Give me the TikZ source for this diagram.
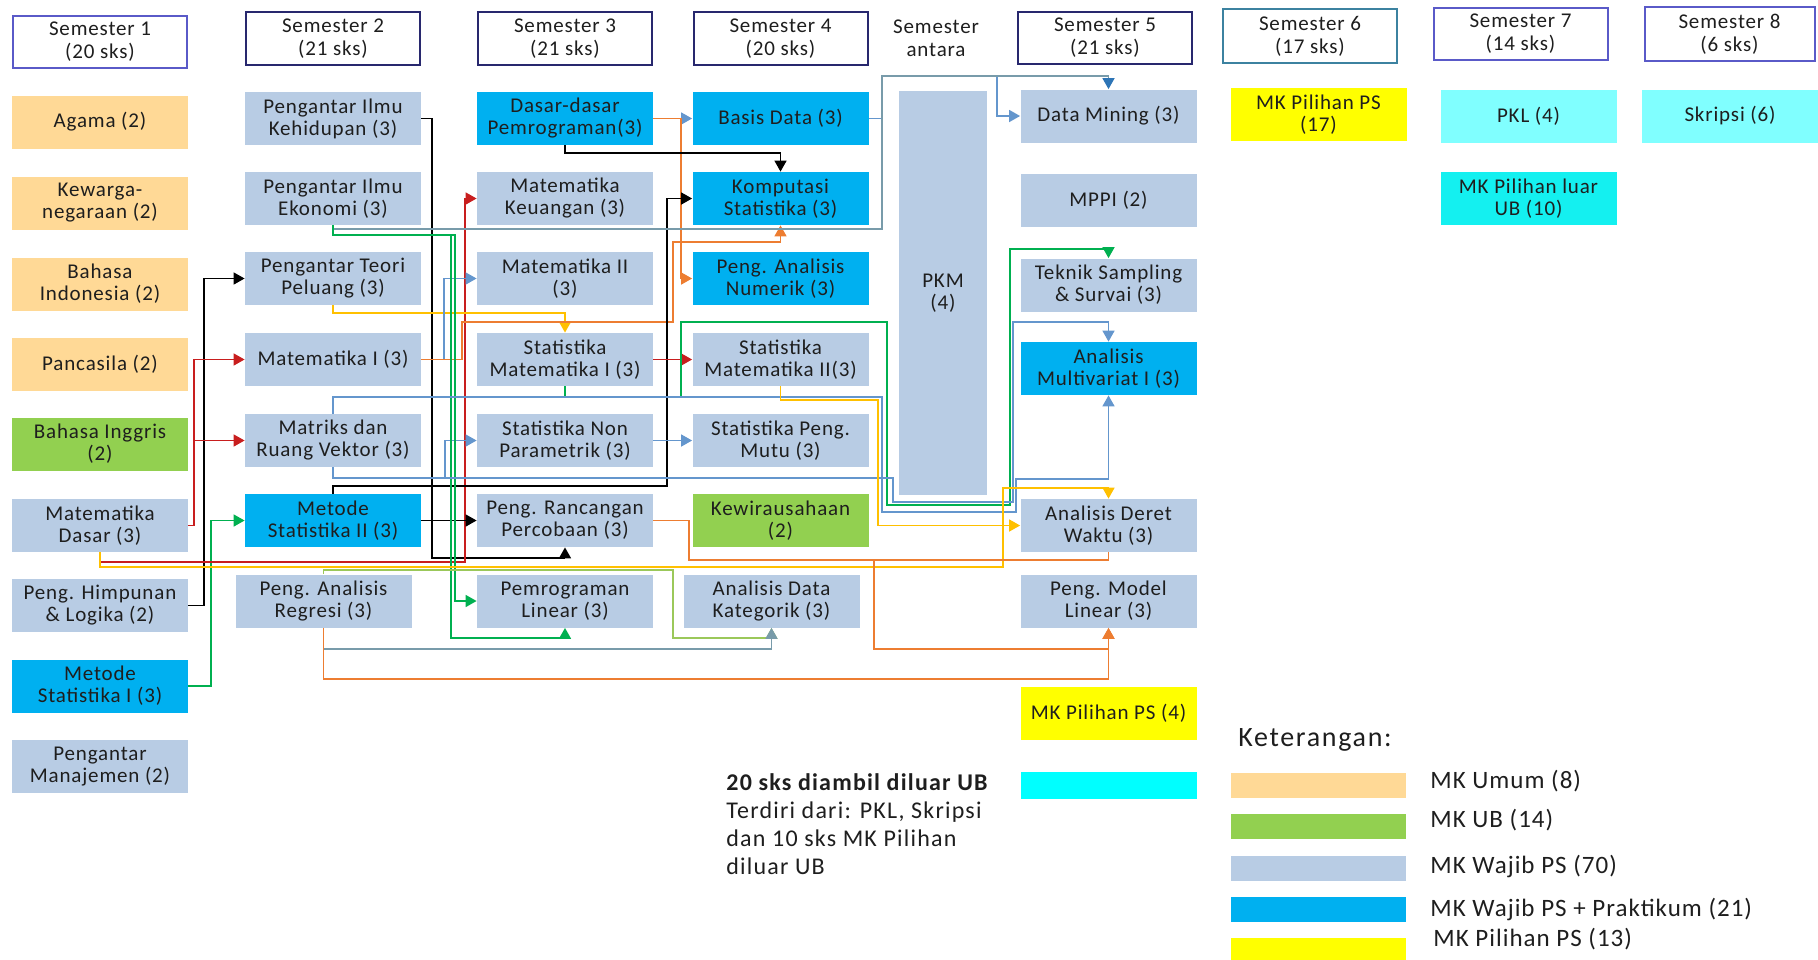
\documentclass[tikz,border=0pt]{standalone}
\usepackage{fontspec}
\setmainfont{Carlito}
\usetikzlibrary{arrows.meta}
\definecolor{cumum}{RGB}{255,217,150}
\definecolor{cub}{RGB}{146,208,80}
\definecolor{cwajib}{RGB}{184,204,228}
\definecolor{cprak}{RGB}{0,176,240}
\definecolor{cpil}{RGB}{255,255,0}
\definecolor{cluar}{RGB}{128,255,255}
\definecolor{ccyan}{RGB}{0,255,255}
\definecolor{ccyanb}{RGB}{20,240,240}
\definecolor{chd}{RGB}{40,40,110}
\definecolor{chdb}{RGB}{90,90,200}
\definecolor{chdt}{RGB}{60,130,160}
\definecolor{cblue}{RGB}{100,150,205}
\definecolor{cdblue}{RGB}{46,117,182}
\definecolor{cslate}{RGB}{120,155,170}
\definecolor{cgreen}{RGB}{0,176,80}
\definecolor{clime}{RGB}{155,200,90}
\definecolor{cred}{RGB}{200,30,30}
\definecolor{corange}{RGB}{237,125,49}
\definecolor{cyellow}{RGB}{255,192,0}
\definecolor{ctxt}{RGB}{30,30,30}
\begin{document}
\begin{tikzpicture}
[x=0.5pt,y=-0.5pt,
 box/.style={minimum width=88pt,minimum height=26.5pt,inner sep=1pt,align=center,text=ctxt,
   font=\fontsize{10.5}{11}\selectfont\addfontfeature{LetterSpace=4}},
 umum/.style={box,fill=cumum},ub/.style={box,fill=cub},wj/.style={box,fill=cwajib},
 pr/.style={box,fill=cprak},pil/.style={box,fill=cpil},lr/.style={box,fill=cluar},
 hd/.style={draw=chd,line width=1pt,fill=white,minimum width=87pt,minimum height=26pt,align=center,text=ctxt,
   font=\fontsize{10.5}{11.5}\selectfont\addfontfeature{LetterSpace=4}},
 lg/.style={minimum width=87.5pt,minimum height=12.5pt,inner sep=0pt},
 lgt/.style={anchor=base west,inner sep=0pt,text=ctxt,font=\fontsize{12.5}{14}\selectfont\addfontfeature{LetterSpace=4}},
 nt/.style={anchor=base west,inner sep=0pt,text=ctxt,font=\fontsize{12}{14}\selectfont\addfontfeature{LetterSpace=5}},
 ln/.style={line width=0.8pt},
 ar/.style={-{Triangle[length=5.5pt,width=6pt]}}]
\useasboundingbox (0,0) rectangle (1818,959);
% semester headers
\node(s1) at (100,42)[hd,draw=chdb]{Semester 1\\(20 sks)};
\node(s2) at (333,38.5)[hd]{Semester 2\\(21 sks)};
\node(s3) at (565,38.5)[hd]{Semester 3\\(21 sks)};
\node(s4) at (780.5,38.5)[hd]{Semester 4\\(20 sks)};
\node(sa) at (936,38)[hd,draw=none,fill=none,minimum width=0pt]{Semester\\antara};
\node(s5) at (1105,38)[hd]{Semester 5\\(21 sks)};
\node(s6) at (1310,36)[hd,draw=chdt]{Semester 6\\(17 sks)};
\node(s7) at (1520.5,34)[hd,draw=chdb]{Semester 7\\(14 sks)};
\node(s8) at (1729.5,34)[hd,draw=chdb,minimum width=85pt]{Semester 8\\(6 sks)};
% semester 1
\node(agm) at (100,122)[umum]{Agama (2)};
\node(kwn) at (100,203)[umum]{Kewarga-\\negaraan (2)};
\node(bin) at (100,284)[umum]{Bahasa\\Indonesia (2)};
\node(pnc) at (100,364)[umum]{Pancasila (2)};
\node(big) at (100,444)[ub]{Bahasa Inggris\\(2)};
\node(md) at (100,525.5)[wj]{Matematika\\Dasar (3)};
\node(phl) at (100,605.5)[wj]{Peng. Himpunan\\\& Logika (2)};
\node(ms1) at (100,686)[pr]{Metode\\Statistika I (3)};
\node(pm) at (100,766.5)[wj]{Pengantar\\Manajemen (2)};
% semester 2
\node(pik) at (333,118.5)[wj]{Pengantar Ilmu\\Kehidupan (3)};
\node(pie) at (333,198.5)[wj]{Pengantar Ilmu\\Ekonomi (3)};
\node(ptp) at (333,278.5)[wj]{Pengantar Teori\\Peluang (3)};
\node(mi) at (333,359.5)[wj]{Matematika I (3)};
\node(mrv) at (333,440.5)[wj]{Matriks dan\\Ruang Vektor (3)};
\node(ms2) at (333,520.5)[pr]{Metode\\Statistika II (3)};
\node(par) at (323.5,601)[wj]{Peng. Analisis\\Regresi (3)};
% semester 3
\node(ddp) at (565,118.5)[pr]{Dasar-dasar\\Pemrograman(3)};
\node(mkeu) at (565,198.5)[wj]{Matematika\\Keuangan (3)};
\node(mii) at (565,278.5)[wj]{Matematika II\\(3)};
\node(sm1) at (565,359.5)[wj]{Statistika\\Matematika I (3)};
\node(snp) at (565,440.5)[wj]{Statistika Non\\Parametrik (3)};
\node(prp) at (565,520.5)[wj]{Peng. Rancangan\\Percobaan (3)};
\node(pl) at (565,601)[wj]{Pemrograman\\Linear (3)};
% semester 4
\node(bd) at (780.5,118.5)[pr]{Basis Data (3)};
\node(ks) at (780.5,198.5)[pr]{Komputasi\\Statistika (3)};
\node(pan) at (780.5,278.5)[pr]{Peng. Analisis\\Numerik (3)};
\node(sm2) at (780.5,359.5)[wj]{Statistika\\Matematika II(3)};
\node(spm) at (780.5,440.5)[wj]{Statistika Peng.\\Mutu (3)};
\node(kwu) at (780.5,520.5)[ub]{Kewirausahaan\\(2)};
\node(adk) at (771.5,601)[wj]{Analisis Data\\Kategorik (3)};
\node(pkm) at (943,293)[wj,minimum width=44pt,minimum height=202pt]{PKM\\(4)};
% semester 5 - 8
\node(dm) at (1108.5,116)[wj]{Data Mining (3)};
\node(mppi) at (1108.5,200)[wj]{MPPI (2)};
\node(tss) at (1108.5,285)[wj]{Teknik Sampling\\\& Survai (3)};
\node(am) at (1108.5,368.5)[pr]{Analisis\\Multivariat I (3)};
\node(adw) at (1108.5,525.5)[wj]{Analisis Deret\\Waktu (3)};
\node(pml) at (1108.5,601)[wj]{Peng. Model\\Linear (3)};
\node(mkp4) at (1108.5,713)[pil]{MK Pilihan PS (4)};
\node(bar) at (1108.5,785.5)[box,fill=ccyan,minimum height=13.5pt]{};
\node(mkp17) at (1318.5,114.5)[pil]{MK Pilihan PS\\(17)};
\node(pkl) at (1528.5,116)[lr]{PKL (4)};
\node(mkpl) at (1528.5,198.5)[box,fill=ccyanb]{MK Pilihan luar\\UB (10)};
\node(skr) at (1730,116)[lr]{Skripsi (6)};
% notes and legend
\node(t1) at (726,790)[nt,font=\fontsize{12}{14}\selectfont\bfseries\addfontfeature{LetterSpace=5}]{20 sks diambil diluar UB};
\node(t2) at (726,818)[nt]{Terdiri dari: PKL, Skripsi};
\node(t3) at (726,846)[nt]{dan 10 sks MK Pilihan};
\node(t4) at (726,874)[nt]{diluar UB};
\node(ket) at (1238,746)[nt,font=\fontsize{14}{16}\selectfont\addfontfeature{LetterSpace=6}]{Keterangan:};
\node(lg1) at (1318.5,785.5)[lg,fill=cumum]{};
\node(lg2) at (1318.5,826)[lg,fill=cub]{};
\node(lg3) at (1318.5,868)[lg,fill=cwajib]{};
\node(lg4) at (1318.5,909.5)[lg,fill=cprak]{};
\node(lg5) at (1318.5,950)[lg,fill=cpil]{};
\node(l1) at (1430,788)[lgt]{MK Umum (8)};
\node(l2) at (1430,827)[lgt]{MK UB (14)};
\node(l3) at (1430,873)[lgt]{MK Wajib PS (70)};
\node(l4) at (1430,916)[lgt]{MK Wajib PS + Praktikum (21)};
\node(l5) at (1433,946)[lgt]{MK Pilihan PS (13)};
% prerequisite lines
\draw[ln,black,ar](phl.east)--(204,605.5)|-(ptp.west);
\draw[ln,cred,ar](md.east)--(194,525.5)|-(mi.west);
\draw[ln,cred,ar](md.east)--(194,525.5)|-(mrv.west);
\draw[ln,cgreen,ar](ms1.east)--(211,686)|-(ms2.west);
\draw[ln,black,ar](pik.east)--(432,118.5)|-(565,558)--(prp.south);
\draw[ln,cred,ar](md.south)|-(465,562)|-(mkeu.west);
\draw[ln,cyellow,ar](ptp.south)|-(565,313)--(sm1.north);
\draw[ln,cblue,ar](mi.east)--(444,359.5)|-(mii.west);
\draw[ln,corange,ar](mi.east)--(462,359.5)|-(673,322)|-(780.5,242)--(ks.south);
\draw[ln,cblue,ar](ddp.east)--(bd.west);
\draw[ln,corange,ar](ddp.east)--(681,118.5)|-(pan.west);
\draw[ln,black,ar](ddp.south)|-(780.5,153)--(ks.north);
\draw[ln,black,ar](ms2.north)|-(667,486)|-(ks.west);
\draw[ln,black,ar](ms2.east)--(prp.west);
\draw[ln,cred,ar](sm1.east)--(sm2.west);
\draw[ln,cblue,ar](mrv.south)|-(445,478)|-(snp.west);
\draw[ln,cblue,ar](snp.east)--(spm.west);
\draw[ln,cblue,ar](bd.east)--(882,118.5)|-(997,76)|-(dm.west);
\draw[ln,cslate,-{Triangle[length=5.5pt,width=6pt,color=cdblue]}](pie.south)|-(882,229)|-(1108.5,76)--(dm.north);
\draw[ln,cgreen,ar](pie.south)|-(455,235)|-(pl.west);
\draw[ln,cgreen,ar](pie.south)|-(451,235)|-(565,638)--(pl.south);
\draw[ln,cgreen,ar](sm1.south)|-(681,397)|-(887,322)|-(1010,505)|-(1108.5,249)--(tss.north);
\draw[ln,cblue,ar](mrv.north)|-(882,397)|-(1016,512)|-(1108.5,479)--(am.south);
\draw[ln,cblue,ar](mrv.south)|-(893,478)|-(1013,502)|-(1108.5,322)--(am.north);
\draw[ln,cyellow,ar](sm2.south)|-(878,400)|-(adw.west);
\draw[ln,cyellow,ar](md.south)|-(1003,567)|-(1108.5,488)--(adw.north);
\draw[ln,clime,ar](par.north)|-(673,570)|-(771.5,638)--(adk.south);
\draw[ln,cslate,ar](par.south)|-(771.5,649)--(adk.south);
\draw[ln,corange,ar](par.south)|-(1108.5,679)--(pml.south);
\coordinate(oj) at (874,560);
\draw[ln,corange,ar](prp.east)--(689,520.5)|-(oj)|-(1108.5,649)--(pml.south);
\draw[ln,corange](adw.south)|-(oj);
\end{tikzpicture}
\end{document}
